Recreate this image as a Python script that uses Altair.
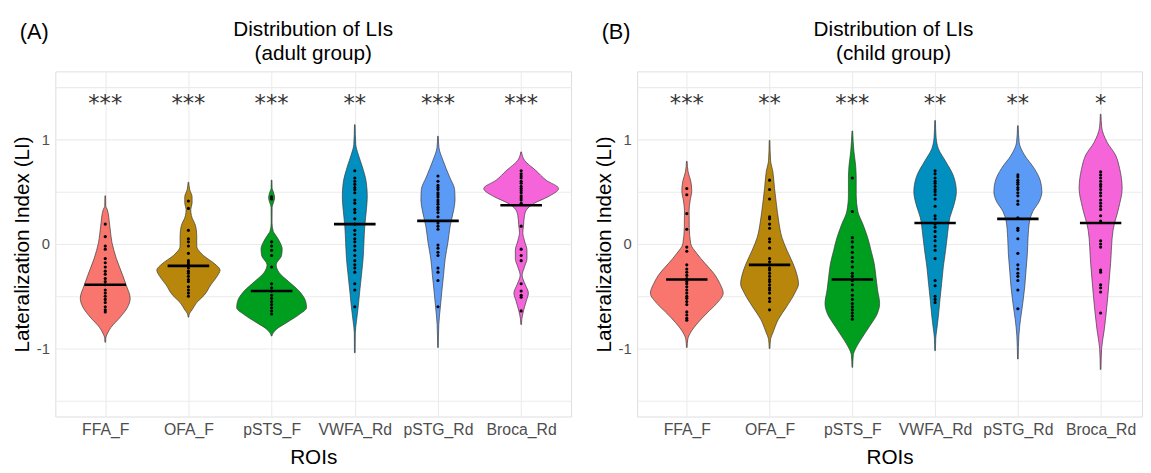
import altair as alt
import pandas as pd

# ---------------- data ----------------
ROIS = ["FFA_F", "OFA_F", "pSTS_F", "VWFA_Rd", "pSTG_Rd", "Broca_Rd"]
COLORS = ["#F8766D", "#B8860B", "#009E1F", "#008FBF", "#5C9BF5", "#F564D8"]

STARS_A = ["***", "***", "***", "**", "***", "***"]
STARS_B = ["***", "**", "***", "**", "**", "*"]

MEDIAN_A = [-0.39, -0.21, -0.45, 0.19, 0.22, 0.37]
MEDIAN_B = [-0.34, -0.20, -0.34, 0.20, 0.24, 0.20]

# violin outline: (LI value, half width in category units)
VIOLIN_A_FFA = [(0.46, 0.004), (0.36, 0.006), (0.33, 0.024), (0.17, 0.055), (0.016, 0.08),
                (-0.14, 0.134), (-0.30, 0.21), (-0.39, 0.25), (-0.52, 0.30), (-0.61, 0.265),
                (-0.70, 0.18), (-0.80, 0.067), (-0.86, 0.024), (-0.90, 0.006), (-0.94, 0.004)]
VIOLIN_A_OFA = [(0.59, 0.004), (0.52, 0.015), (0.45, 0.044), (0.39, 0.044), (0.33, 0.028),
                (0.27, 0.036), (0.17, 0.087), (0.08, 0.10), (-0.02, 0.10), (-0.11, 0.18),
                (-0.19, 0.316), (-0.25, 0.38), (-0.31, 0.345), (-0.39, 0.27), (-0.49, 0.19),
                (-0.56, 0.10), (-0.63, 0.044), (-0.67, 0.01), (-0.70, 0.004)]
VIOLIN_A_PSTS = [(0.61, 0.004), (0.53, 0.006), (0.50, 0.02), (0.44, 0.036), (0.39, 0.02),
                 (0.35, 0.006), (0.20, 0.005), (0.12, 0.02), (0.094, 0.04), (0.016, 0.10),
                 (-0.047, 0.127), (-0.11, 0.12), (-0.20, 0.055), (-0.27, 0.087), (-0.36, 0.205),
                 (-0.45, 0.33), (-0.55, 0.41), (-0.61, 0.42), (-0.67, 0.34), (-0.75, 0.186),
                 (-0.81, 0.067), (-0.85, 0.02), (-0.88, 0.004)]
VIOLIN_A_VWFA = [(1.14, 0.004), (0.95, 0.012), (0.86, 0.04), (0.74, 0.09), (0.58, 0.14),
                 (0.45, 0.15), (0.33, 0.14), (0.17, 0.12), (0.016, 0.11), (-0.14, 0.10),
                 (-0.30, 0.08), (-0.45, 0.06), (-0.61, 0.04), (-0.74, 0.02), (-0.85, 0.006),
                 (-1.04, 0.004)]
VIOLIN_A_PSTG = [(1.03, 0.004), (0.92, 0.012), (0.80, 0.06), (0.64, 0.14), (0.52, 0.20),
                 (0.42, 0.205), (0.33, 0.19), (0.17, 0.146), (0.016, 0.12), (-0.14, 0.087),
                 (-0.30, 0.067), (-0.45, 0.047), (-0.61, 0.028), (-0.77, 0.01), (-0.99, 0.004)]
VIOLIN_A_BROCA = [(0.88, 0.004), (0.80, 0.04), (0.70, 0.18), (0.61, 0.30), (0.53, 0.45),
                  (0.45, 0.32), (0.39, 0.16), (0.33, 0.067), (0.27, 0.04), (0.17, 0.028),
                  (0.11, 0.02), (0.03, 0.04), (-0.06, 0.07), (-0.14, 0.07), (-0.22, 0.04),
                  (-0.30, 0.012), (-0.39, 0.05), (-0.47, 0.087), (-0.55, 0.06), (-0.64, 0.028),
                  (-0.72, 0.008), (-0.77, 0.004)]

VIOLIN_B_FFA = [(0.79, 0.004), (0.69, 0.016), (0.60, 0.048), (0.51, 0.06), (0.41, 0.04),
                (0.32, 0.028), (0.16, 0.03), (0.0, 0.048), (-0.09, 0.12), (-0.19, 0.225),
                (-0.28, 0.325), (-0.38, 0.40), (-0.47, 0.44), (-0.57, 0.36), (-0.66, 0.245),
                (-0.75, 0.138), (-0.85, 0.044), (-0.91, 0.012), (-0.99, 0.004)]
VIOLIN_B_OFA = [(0.99, 0.004), (0.80, 0.012), (0.69, 0.04), (0.53, 0.06), (0.38, 0.083),
                (0.22, 0.11), (0.06, 0.15), (-0.06, 0.21), (-0.19, 0.285), (-0.31, 0.336),
                (-0.38, 0.35), (-0.47, 0.305), (-0.60, 0.206), (-0.72, 0.107), (-0.85, 0.04),
                (-0.91, 0.012), (-1.0, 0.004)]
VIOLIN_B_PSTS = [(1.08, 0.004), (0.88, 0.02), (0.75, 0.04), (0.63, 0.047), (0.47, 0.047),
                 (0.31, 0.067), (0.19, 0.127), (0.06, 0.186), (-0.06, 0.225), (-0.19, 0.265),
                 (-0.31, 0.285), (-0.44, 0.305), (-0.57, 0.33), (-0.66, 0.305), (-0.79, 0.206),
                 (-0.91, 0.107), (-1.0, 0.04), (-1.06, 0.012), (-1.18, 0.004)]
VIOLIN_B_VWFA = [(1.18, 0.004), (1.02, 0.012), (0.91, 0.04), (0.79, 0.127), (0.66, 0.217),
                 (0.50, 0.257), (0.38, 0.23), (0.25, 0.178), (0.09, 0.15), (-0.06, 0.127),
                 (-0.22, 0.099), (-0.38, 0.079), (-0.53, 0.059), (-0.69, 0.04), (-0.82, 0.02),
                 (-0.90, 0.008), (-1.02, 0.004)]
VIOLIN_B_PSTG = [(1.13, 0.004), (0.97, 0.016), (0.85, 0.08), (0.72, 0.20), (0.60, 0.273),
                 (0.50, 0.29), (0.41, 0.26), (0.31, 0.18), (0.22, 0.142), (0.06, 0.123),
                 (-0.09, 0.115), (-0.25, 0.099), (-0.41, 0.083), (-0.57, 0.059), (-0.72, 0.032),
                 (-0.88, 0.012), (-1.10, 0.004)]
VIOLIN_B_BROCA = [(1.24, 0.004), (1.12, 0.012), (0.97, 0.08), (0.85, 0.18), (0.72, 0.23),
                  (0.53, 0.26), (0.35, 0.22), (0.13, 0.15), (-0.19, 0.12), (-0.50, 0.087),
                  (-0.82, 0.044), (-1.0, 0.012), (-1.20, 0.004)]

# individual observations (dots)
POINTS_A_FFA = [0.19, 0.07, -0.02, -0.05, -0.14, -0.18, -0.22, -0.26, -0.29, -0.33, -0.36,
                -0.39, -0.44, -0.47, -0.50, -0.53, -0.56, -0.60, -0.63, -0.65]
POINTS_A_OFA = [0.41, 0.34, 0.13, 0.05, 0.02, -0.02, -0.09, -0.16, -0.18, -0.20, -0.23, -0.26,
                -0.28, -0.31, -0.34, -0.36, -0.41, -0.44, -0.47, -0.50]
POINTS_A_PSTS = [0.45, 0.43, 0.02, -0.02, -0.06, -0.11, -0.22, -0.38, -0.42, -0.45, -0.49,
                 -0.52, -0.55, -0.58, -0.61, -0.64, -0.67]
POINTS_A_VWFA = [0.70, 0.63, 0.60, 0.57, 0.54, 0.52, 0.49, 0.42, 0.39, 0.33, 0.30, 0.24, 0.19,
                 0.13, 0.09, 0.05, 0.02, -0.02, -0.06, -0.11, -0.16, -0.20, -0.23, -0.27,
                 -0.38, -0.44, -0.60]
POINTS_A_PSTG = [0.65, 0.60, 0.56, 0.54, 0.52, 0.49, 0.47, 0.45, 0.42, 0.40, 0.38, 0.35, 0.33,
                 0.30, 0.26, 0.20, 0.17, 0.14, -0.01, -0.04, -0.08, -0.11, -0.23, -0.27,
                 -0.35, -0.60]
POINTS_A_BROCA = [0.70, 0.67, 0.65, 0.63, 0.60, 0.58, 0.55, 0.53, 0.51, 0.49, 0.46, 0.44, 0.42,
                  0.39, 0.17, -0.05, -0.11, -0.16, -0.38, -0.45, -0.49, -0.51, -0.64]

POINTS_B_FFA = [0.53, 0.47, 0.29, 0.14, -0.03, -0.07, -0.20, -0.24, -0.27, -0.30, -0.33, -0.36,
                -0.38, -0.41, -0.44, -0.47, -0.50, -0.52, -0.55, -0.58, -0.65, -0.68, -0.71,
                -0.73]
POINTS_B_OFA = [0.61, 0.52, 0.43, 0.26, 0.24, 0.19, 0.15, 0.05, 0.02, -0.04, -0.14, -0.17,
                -0.20, -0.23, -0.25, -0.28, -0.31, -0.34, -0.36, -0.39, -0.42, -0.44, -0.47,
                -0.52, -0.55, -0.63]
POINTS_B_PSTS = [0.63, 0.31, 0.06, 0.02, -0.03, -0.08, -0.13, -0.17, -0.22, -0.28, -0.31, -0.35,
                 -0.39, -0.44, -0.49, -0.53, -0.57, -0.60, -0.63, -0.66, -0.69, -0.72]
POINTS_B_VWFA = [0.70, 0.67, 0.63, 0.60, 0.58, 0.55, 0.52, 0.50, 0.47, 0.43, 0.36, 0.27, 0.24,
                 0.19, 0.16, 0.12, 0.07, 0.03, -0.02, -0.06, -0.14, -0.35, -0.40, -0.50, -0.53,
                 -0.56]
POINTS_B_PSTG = [0.66, 0.64, 0.61, 0.59, 0.57, 0.54, 0.52, 0.49, 0.46, 0.41, 0.38, 0.25, 0.15,
                 0.13, 0.05, -0.09, -0.20, -0.24, -0.28, -0.31, -0.35, -0.44, -0.62]
POINTS_B_BROCA = [0.69, 0.66, 0.63, 0.60, 0.57, 0.55, 0.52, 0.49, 0.46, 0.42, 0.39, 0.36, 0.33,
                  0.27, 0.22, 0.03, 0.0, -0.03, -0.25, -0.27, -0.39, -0.42, -0.46, -0.66]

VIOLINS_A = [VIOLIN_A_FFA, VIOLIN_A_OFA, VIOLIN_A_PSTS, VIOLIN_A_VWFA, VIOLIN_A_PSTG, VIOLIN_A_BROCA]
VIOLINS_B = [VIOLIN_B_FFA, VIOLIN_B_OFA, VIOLIN_B_PSTS, VIOLIN_B_VWFA, VIOLIN_B_PSTG, VIOLIN_B_BROCA]
POINTS_A = [POINTS_A_FFA, POINTS_A_OFA, POINTS_A_PSTS, POINTS_A_VWFA, POINTS_A_PSTG, POINTS_A_BROCA]
POINTS_B = [POINTS_B_FFA, POINTS_B_OFA, POINTS_B_PSTS, POINTS_B_VWFA, POINTS_B_PSTG, POINTS_B_BROCA]

FONT = "Liberation Sans"
GRID = "#EBEBEB"
TEXT_GREY = "#4D4D4D"


def panel(tag, subtitle, violins, points, medians, stars, width, xmax, title_dx):
    vrows, prows, mrows, srows = [], [], [], []
    for i, roi in enumerate(ROIS):
        idx = i + 1
        for v, hw in violins[i]:
            vrows.append({"roi": roi, "idx": idx, "v": v, "hw": hw})
        for v in points[i]:
            prows.append({"roi": roi, "idx": idx, "v": v})
        mrows.append({"roi": roi, "idx": idx, "med": medians[i]})
        srows.append({"roi": roi, "idx": idx, "stars": stars[i]})
    vdf, pdf, mdf, sdf = (pd.DataFrame(r) for r in (vrows, prows, mrows, srows))

    xscale = alt.Scale(domain=[0.4, xmax], nice=False, zero=False)
    yscale = alt.Scale(domain=[-1.65, 1.65], nice=False, zero=False)
    label_expr = "['', " + ", ".join("'%s'" % r for r in ROIS) + "][datum.value]"

    xaxis = alt.Axis(title="ROIs", values=[1, 2, 3, 4, 5, 6], labelExpr=label_expr,
                     grid=True, gridColor=GRID, gridWidth=1.1, domain=False, ticks=False,
                     labelFont=FONT, labelFontSize=16, labelColor=TEXT_GREY, labelPadding=5,
                     labelOverlap=False, titleFont=FONT, titleFontSize=21,
                     titleFontWeight="normal", titleColor="black", titlePadding=10)
    yaxis = alt.Axis(title="Lateralization Index (LI)", values=[-1.5, -1, -0.5, 0, 0.5, 1, 1.5],
                     labelExpr="datum.value % 1 == 0 ? '' + datum.value : ''",
                     grid=True, gridColor=GRID, gridWidth=1.1, domain=False, ticks=False,
                     labelFont=FONT, labelFontSize=15, labelColor=TEXT_GREY, labelPadding=6,
                     labelOverlap=False, titleFont=FONT, titleFontSize=21,
                     titleFontWeight="normal", titleColor="black", titlePadding=4)

    color = alt.Color("roi:N", scale=alt.Scale(domain=ROIS, range=COLORS), legend=None)

    violin = alt.Chart(vdf).transform_calculate(
        lo="datum.idx - datum.hw", hi="datum.idx + datum.hw"
    ).mark_area(orient="horizontal", interpolate="monotone", stroke="#3a3a3a",
                strokeWidth=0.7, opacity=1).encode(
        y=alt.Y("v:Q", scale=yscale, axis=yaxis),
        x=alt.X("lo:Q", scale=xscale, axis=xaxis, stack=None),
        x2="hi:Q",
        color=color,
        detail="roi:N",
    )

    dots = alt.Chart(pdf).mark_circle(size=10, color="black", opacity=1).encode(
        x=alt.X("idx:Q", scale=xscale, axis=xaxis),
        y=alt.Y("v:Q", scale=yscale, axis=yaxis),
    )

    med = alt.Chart(mdf).transform_calculate(
        lo="datum.idx - 0.25", hi="datum.idx + 0.25"
    ).mark_rule(color="black", strokeWidth=2.7).encode(
        x=alt.X("lo:Q", scale=xscale, axis=xaxis),
        x2="hi:Q",
        y=alt.Y("med:Q", scale=yscale, axis=yaxis),
    )

    star = alt.Chart(sdf).mark_text(font="DejaVu Sans", fontSize=23, color="#333333",
                                    baseline="alphabetic").encode(
        x=alt.X("idx:Q", scale=xscale, axis=xaxis),
        y=alt.datum(1.27),
        text="stars:N",
    )

    lab = alt.Chart(pd.DataFrame({"lab": [tag]})).mark_text(
        font=FONT, fontSize=22, color="black", align="left", baseline="alphabetic"
    ).encode(x=alt.value(-36), y=alt.value(-33), text="lab:N")

    return alt.layer(violin, dots, med, star, lab).properties(
        width=width, height=350,
        title=alt.TitleParams(["Distribution of LIs", subtitle], font=FONT, fontSize=21,
                              fontWeight="normal", color="black", anchor="middle",
                              frame="group", lineHeight=24, offset=-43, dx=title_dx),
    )


pa = panel("(A)", "(adult group)", VIOLINS_A, POINTS_A, MEDIAN_A, STARS_A, 523, 6.6, 0)
pb = panel("(B)", "(child group)", VIOLINS_B, POINTS_B, MEDIAN_B, STARS_B, 512, 6.5, 4)

chart = alt.hconcat(pa, pb, spacing=21).properties(
    padding={"left": 3, "top": 7, "right": 0, "bottom": 0}
).configure_view(strokeWidth=0, stroke="transparent").configure(font=FONT)

chart.save("out.html", embed_options={"renderer": "svg", "actions": False})
